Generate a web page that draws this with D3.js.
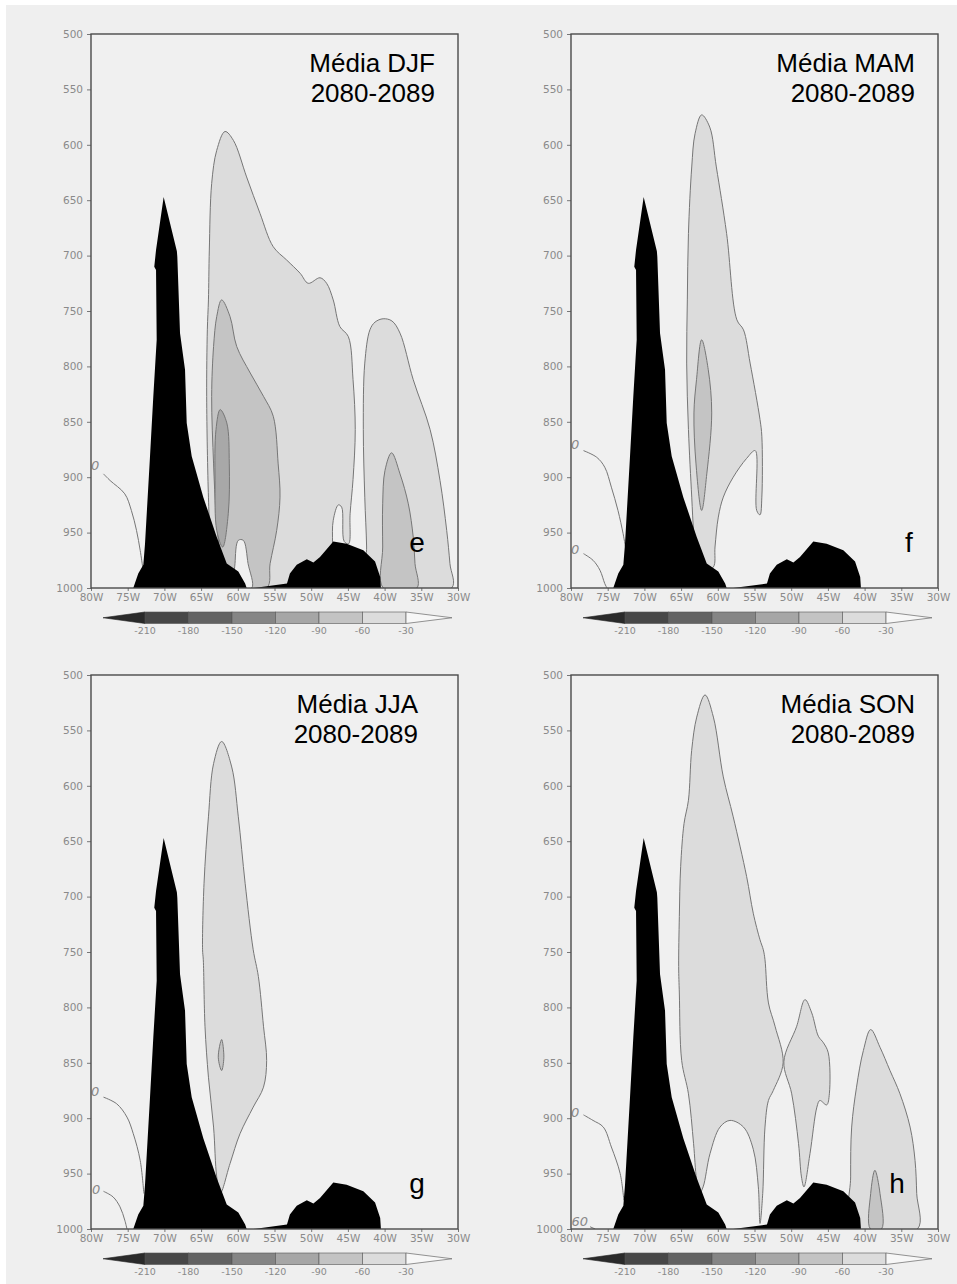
<!DOCTYPE html>
<meta charset="utf-8">
<script src="https://d3js.org/d3.v7.min.js"></script>
<body style="margin:0;background:#fff">
<div id="chart"></div>
<script>
// axis ticks
var pressureTicks = [500, 550, 600, 650, 700, 750, 800, 850, 900, 950, 1000];
var lonTicks = [80, 75, 70, 65, 60, 55, 50, 45, 40, 35, 30];
var cbarLevels = [-210, -180, -150, -120, -90, -60, -30];
var cbarColors = ["#2a2a2a", "#474747", "#626262", "#858585", "#a6a6a6", "#c3c3c3", "#dcdcdc", "#f7f7f7"];
// fill colour per contour level: 0 = above -30, 1 = -60..-30, 2 = -90..-60, 3 = -120..-90
var levelColors = ["#f0f0f0", "#dcdcdc", "#c4c4c4", "#a8a8a8"];

var seasons = ["DJF", "MAM", "JJA", "SON"];
var period = "2080-2089";
var letters = ["e", "f", "g", "h"];

// topography, [lon W, hPa]
var andes = [[70.1,647],[68.3,696],[68.24,701],[67.87,770],[67.19,803],[66.96,851],[66.28,881],[64.7,918],[62.87,954],[61.51,978],[59.93,985],[59.0,996],[58.79,1000],[74.24,1000],[73.56,987],[72.87,979],[72.64,960],[71.96,881],[71.51,827],[71.05,776],[71.14,713],[71.38,710],[71.14,695]];
var planalto = [[57.9,1000],[53.3,996],[52.9,987],[51.97,979],[50.6,974],[49.7,977],[48.8,972],[46.99,958],[45.17,960],[42.9,966],[41.3,976],[40.6,990],[40.5,1000]];

// DJF contours
var djfA = [[61.74,588],[62.87,605],[63.56,635],[63.88,695],[64.0,740],[64.15,767],[64.24,827],[64.0,918],[63.8,948],[63.3,975],[62.5,1000],[47.1,1000],[47.1,960],[47.0,939],[46.3,925],[45.85,927],[45.5,958],[44.9,960],[44.7,933],[44.3,902],[44.0,857],[44.3,812],[44.95,773],[46.1,764],[47.0,740],[47.9,725],[48.8,720],[50.4,725],[51.5,716],[53.34,704],[55.17,692],[56.97,662],[58.8,629],[60.6,596]];
var djfB = [[62.2,740],[62.87,755],[63.3,782],[63.56,827],[63.3,888],[62.97,933],[62.4,978],[62.4,1000],[56.07,1000],[55.6,978],[54.7,948],[54.25,918],[54.5,888],[55.17,845],[56.5,827],[58.3,806],[60.15,782],[61.06,755]];
var djfC = [[62.4,839],[62.97,857],[63.1,903],[62.87,948],[62.06,963],[61.3,933],[61.16,888],[61.5,851]];
var djfGap = [[60.4,1000],[60.38,978],[59.93,957],[59.25,957],[58.6,978],[58.1,1000]];
var djfD = [[42.0,767],[41.3,760],[40.2,757],[39.0,759],[37.9,770],[36.1,812],[33.8,857],[32.45,903],[31.54,948],[31.1,978],[30.86,1000],[42.45,1000],[42.45,963],[42.7,918],[42.9,857],[42.7,797]];
var djfE = [[39.05,878],[37.9,897],[36.77,924],[36.1,954],[35.86,978],[35.6,1000],[40.17,1000],[40.26,963],[40.26,924],[39.95,894]];
var djfZero = [[78.3,897],[77.4,903],[75.4,915],[74.5,930],[73.8,948],[73.3,966],[72.96,981]];

// MAM contours
var mamA = [[62.2,573],[63.1,590],[63.55,620],[64.0,680],[64.15,740],[64.24,797],[64.0,857],[63.55,918],[63.3,948],[63.0,965],[61.8,984],[60.6,981],[60.38,963],[59.93,936],[59.25,918],[57.9,900],[56.07,883],[54.9,876],[54.7,930],[54.25,934],[54.0,918],[54.0,863],[54.25,848],[55.6,797],[56.5,767],[57.4,758],[58.8,680],[60.2,620],[61.1,584]];
var mamB = [[62.2,776],[62.9,812],[63.25,842],[62.97,888],[62.2,930],[61.5,897],[60.83,842],[61.3,803]];
var mamZero1 = [[78.3,876],[76.5,882],[75.4,891],[74.5,909],[73.6,930],[72.9,951],[72.5,966]];
var mamZero2 = [[78.3,969],[77,975],[76.05,984],[75.4,996],[75.1,1000]];

// JJA contours
var jjaA = [[62.2,560],[63.3,580],[64.0,628],[64.6,688],[64.8,748],[64.7,757],[64.47,817],[64.0,863],[63.3,908],[62.87,953],[62.4,968],[61.06,941],[59.7,914],[57.9,890],[56.5,872],[56.07,848],[56.5,817],[57.2,772],[57.9,748],[59.0,688],[59.93,628],[60.83,583]];
var jjaB = [[62.2,829],[62.66,845],[62.2,857],[61.9,845]];
var jjaZero1 = [[78.3,881],[76.5,887],[75.1,899],[74.24,914],[73.3,938],[72.8,968]];
var jjaZero2 = [[78.3,966],[77,971],[76.05,980],[75.4,992],[75.1,1000]];

// SON contours
var sonA = [[61.74,518],[62.87,538],[63.56,568],[64.0,613],[64.6,634],[65.06,673],[65.24,718],[65.33,763],[65.24,787],[64.92,848],[64.0,878],[63.3,923],[62.9,955],[62.5,968],[62.0,962],[61.06,932],[59.7,908],[58.34,902],[56.5,908],[55.17,928],[54.48,962],[54.25,995],[53.88,968],[53.57,908],[53.1,884],[52.44,875],[51.1,850],[52.2,817],[53.1,796],[53.57,757],[53.8,748],[54.25,739],[55.17,715],[56.07,682],[57.9,628],[59.25,592],[60.6,538]];
var sonB = [[48.12,793],[49.25,817],[51.0,849],[49.93,878],[49.0,923],[48.6,953],[48.26,962],[47.44,932],[46.5,890],[46.1,884],[45.17,888],[44.8,878],[44.95,841],[45.6,832],[46.3,826],[47.2,805]];
var sonC = [[39.17,820],[37.9,836],[36.54,857],[35.18,878],[33.8,908],[33.13,938],[32.9,968],[32.8,1000],[41.76,1000],[41.9,953],[41.76,908],[41.1,872],[40.17,839]];
var sonD = [[38.6,947],[37.9,968],[37.7,1000],[39.2,1000],[39.17,968]];
var sonZero = [[78.3,897],[77,902],[75.6,908],[74.5,926],[73.3,950],[72.8,974]];
var son60 = [[77.4,998],[76.7,1000]];

var panels = [
  { fills: [[1, djfA], [2, djfB], [3, djfC], [0, djfGap], [1, djfD], [2, djfE]],
    lines: [[djfZero, "0", [79.45, 890]]] },
  { fills: [[1, mamA], [2, mamB]],
    lines: [[mamZero1, "0", [79.45, 871]], [mamZero2, "0", [79.45, 966]]] },
  { fills: [[1, jjaA], [2, jjaB]],
    lines: [[jjaZero1, "0", [79.45, 877]], [jjaZero2, "0", [79.3, 965]]] },
  { fills: [[1, sonA], [1, sonB], [1, sonC], [2, sonD]],
    lines: [[sonZero, "0", [79.45, 896]], [son60, "60", [78.8, 994]]] }
];

// layout
var W = 367, H = 554;
var origins = [[91, 34], [571, 34], [91, 675], [571, 675]];
var titleRight = [344, 344, 327, 344];
var letterX = [326, 338, 326, 326];

var svg = d3.select("#chart").append("svg")
  .attr("width", 957).attr("height", 1284);
svg.append("rect").attr("width", 957).attr("height", 1284).attr("fill", "#fff");
svg.append("rect").attr("x", 6).attr("y", 5).attr("width", 951).attr("height", 1279).attr("fill", "#efefef");

var x = d3.scaleLinear().domain([80, 30]).range([0, W]);
var y = d3.scaleLinear().domain([500, 1000]).range([0, H]);
var cb = d3.scaleLinear().domain([-210, -30]).range([54, 315]);

var smoothClosed = d3.line().x(d => x(d[0])).y(d => y(d[1])).curve(d3.curveCatmullRomClosed.alpha(0.5));
var smooth = d3.line().x(d => x(d[0])).y(d => y(d[1])).curve(d3.curveCatmullRom.alpha(0.5));
var poly = d3.line().x(d => x(d[0])).y(d => y(d[1])).curve(d3.curveLinearClosed);

panels.forEach(function(p, i) {
  var g = svg.append("g").attr("transform", "translate(" + origins[i][0] + "," + origins[i][1] + ")");
  g.append("clipPath").attr("id", "clip" + i)
    .append("rect").attr("width", W).attr("height", H);
  var plot = g.append("g").attr("clip-path", "url(#clip" + i + ")");
  plot.append("rect").attr("width", W).attr("height", H).attr("fill", "#f0f0f0");

  // shaded contours
  p.fills.forEach(function(f) {
    plot.append("path")
      .attr("d", smoothClosed(f[1]))
      .attr("fill", levelColors[f[0]])
      .attr("stroke", "#767676")
      .attr("stroke-width", 1);
  });

  // unshaded contour lines with labels
  p.lines.forEach(function(l) {
    plot.append("path")
      .attr("d", smooth(l[0]))
      .attr("fill", "none")
      .attr("stroke", "#767676")
      .attr("stroke-width", 1);
    plot.append("text")
      .attr("x", x(l[2][0])).attr("y", y(l[2][1]))
      .attr("text-anchor", "middle").attr("dominant-baseline", "middle")
      .style("font-family", "DejaVu Sans, sans-serif").style("font-size", "13px")
      .style("font-style", "italic").attr("fill", "#888")
      .text(l[1]);
  });

  // topography
  [andes, planalto].forEach(function(t) {
    plot.append("path").attr("d", poly(t)).attr("fill", "#000");
  });

  // axes
  var yAxis = g.append("g")
    .call(d3.axisLeft(y).tickValues(pressureTicks).tickSize(4).tickSizeOuter(0).tickPadding(4)
      .tickFormat(d3.format("d")));
  var xAxis = g.append("g").attr("transform", "translate(0," + H + ")")
    .call(d3.axisBottom(x).tickValues(lonTicks).tickSize(3).tickSizeOuter(0).tickPadding(3)
      .tickFormat(d => d + "W"));
  [yAxis, xAxis].forEach(function(a) {
    a.select(".domain").remove();
    a.selectAll("line").attr("stroke", "#777");
    a.selectAll("text").attr("fill", "#8a8a8a")
      .style("font-family", "DejaVu Sans, sans-serif").style("font-size", "10.5px");
  });

  g.append("rect").attr("width", W).attr("height", H)
    .attr("fill", "none").attr("stroke", "#4a4a4a").attr("stroke-width", 1.4);

  // title
  var t = g.append("text").attr("text-anchor", "end")
    .style("font-family", "Liberation Sans, Arial, sans-serif").style("font-size", "26px").attr("fill", "#000");
  t.append("tspan").attr("x", titleRight[i]).attr("y", 38).text("Média " + seasons[i]);
  t.append("tspan").attr("x", titleRight[i]).attr("y", 68).text(period);

  g.append("text").attr("x", letterX[i]).attr("y", 518).attr("text-anchor", "middle")
    .style("font-family", "Liberation Sans, Arial, sans-serif").style("font-size", "28px")
    .attr("fill", "#000").text(letters[i]);

  // colour bar
  var bar = g.append("g").attr("transform", "translate(0," + (H + 24) + ")");
  var bh = 11.5;
  bar.append("path")
    .attr("d", "M" + 12 + "," + bh / 2 + "L" + cb(-210) + ",0L" + cb(-210) + "," + bh + "Z")
    .attr("fill", cbarColors[0]).attr("stroke", "#222").attr("stroke-width", 0.6);
  for (var k = 0; k < cbarLevels.length - 1; k++) {
    bar.append("rect")
      .attr("x", cb(cbarLevels[k])).attr("width", cb(cbarLevels[k + 1]) - cb(cbarLevels[k]))
      .attr("height", bh).attr("fill", cbarColors[k + 1])
      .attr("stroke", "#555").attr("stroke-width", 0.6);
  }
  bar.append("path")
    .attr("d", "M" + cb(-30) + ",0L" + 361 + "," + bh / 2 + "L" + cb(-30) + "," + bh + "Z")
    .attr("fill", cbarColors[7]).attr("stroke", "#777").attr("stroke-width", 0.8);
  bar.selectAll("text.cl").data(cbarLevels).enter().append("text")
    .attr("x", d => cb(d)).attr("y", 22).attr("text-anchor", "middle")
    .style("font-family", "DejaVu Sans, sans-serif").style("font-size", "9.5px")
    .attr("fill", "#8a8a8a").text(d => d);
});
</script>
